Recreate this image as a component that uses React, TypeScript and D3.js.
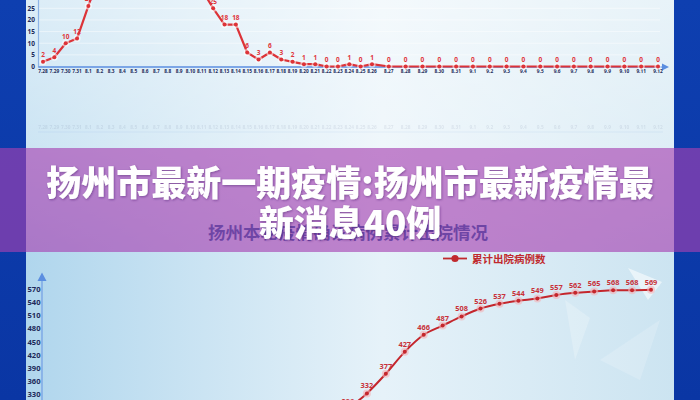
import React from 'react';
import * as d3 from 'd3';

const topDates = [
  '7.28', '7.29', '7.30', '7.31',
  '8.1', '8.2', '8.3', '8.4', '8.5', '8.6', '8.7', '8.8', '8.9', '8.10',
  '8.11', '8.12', '8.13', '8.14', '8.15', '8.16', '8.17', '8.18', '8.19', '8.20',
  '8.21', '8.22', '8.23', '8.24', '8.25', '8.26', '8.27', '8.28', '8.29', '8.30', '8.31',
  '9.1', '9.2', '9.3', '9.4', '9.5', '9.6', '9.7', '9.8', '9.9', '9.10', '9.11', '9.12',
];
const topValues = [
  2, 4, 10, 12,
  26, 40, 38, 47, 45, 41, 43, 36, 39, 35,
  33, 25, 18, 18, 6, 3, 6, 3, 2, 1,
  1, 0, 0, 1, 0, 1, 0, 0, 0, 0, 0,
  0, 0, 0, 0, 0, 0, 0, 0, 0, 0, 0, 0,
];
const topYTicks = [0, 5, 10, 15, 20, 25];

const botDates = [
  '8.26', '8.27', '8.28', '8.29', '8.30', '8.31', '9.1', '9.2', '9.3',
  '9.4', '9.5', '9.6', '9.7', '9.8', '9.9', '9.10', '9.11', '9.12',
];
const botValues = [258, 296, 332, 377, 427, 466, 487, 508, 526, 537, 544, 549, 557, 562, 565, 568, 568, 569];
const botYTicks = [330, 360, 390, 420, 450, 480, 510, 540, 570];

const bannerLines = ['扬州市最新一期疫情:扬州市最新疫情最', '新消息40例'];
const chartTitle = '扬州本轮疫情确诊病例累计出院情况';
const legendLabel = '累计出院病例数';

const NUM_FONT = "'Noto Sans', 'DejaVu Sans', sans-serif";
const CJK_FONT = "'Noto Sans CJK SC', 'Noto Sans', sans-serif";

export default function App() {
  const W = 700;
  const H = 400;

  const xTop = d3.scaleLinear().domain([0, 29, topDates.length - 1]).range([43, 372, 658]);
  const yTop = d3.scaleLinear().domain([0, 25]).range([66.5, 8.3]);
  const xBot = d3.scalePoint<string>().domain(botDates).range([329, 651]);
  const yBot = d3.scaleLinear().domain([330, 570]).range([394.3, 289.3]);

  const topPath = d3
    .line<number>()
    .x((_, i) => xTop(i))
    .y((d) => yTop(d))(topValues) as string;
  const botPath = d3
    .line<number>()
    .x((_, i) => xBot(botDates[i]) as number)
    .y((d) => yBot(d))
    .curve(d3.curveMonotoneX)(botValues) as string;

  return (
    <svg
      width={W}
      height={H}
      viewBox={`0 0 ${W} ${H}`}
      style={{ position: 'absolute', left: 0, top: 0, display: 'block' }}
    >
      <defs>
        <linearGradient id="side" x1="0" y1="0" x2="0" y2="1">
          <stop offset="0" stopColor="#0e3fb0" />
          <stop offset="1" stopColor="#0a36a4" />
        </linearGradient>
        <linearGradient id="panel" x1="0" y1="0" x2="1" y2="0">
          <stop offset="0" stopColor="#b0d6ed" />
          <stop offset="0.55" stopColor="#e6f2f9" />
          <stop offset="1" stopColor="#cce4f1" />
        </linearGradient>
        <linearGradient id="panelTop" x1="0" y1="0" x2="0" y2="1">
          <stop offset="0" stopColor="#ffffff" stopOpacity="0.55" />
          <stop offset="0.38" stopColor="#ffffff" stopOpacity="0.35" />
          <stop offset="0.62" stopColor="#ffffff" stopOpacity="0" />
        </linearGradient>
        <filter id="shadow" x="-5%" y="-20%" width="110%" height="140%">
          <feDropShadow dx="0.8" dy="1" stdDeviation="0.8" floodColor="#3a1560" floodOpacity="0.45" />
        </filter>
      </defs>

      {/* background */}
      <rect x={0} y={0} width={W} height={H} fill="url(#side)" />
      <rect x={26} y={0} width={648} height={H} fill="url(#panel)" />
      <rect x={26} y={0} width={648} height={H} fill="url(#panelTop)" />

      {/* decorative light shards */}
      <polygon points="628,268 662,282 648,300" fill="#ffffff" opacity={0.55} />
      <polygon points="565,300 590,318 575,360" fill="#ffffff" opacity={0.22} />
      <polygon points="600,360 660,320 640,380" fill="#ffffff" opacity={0.18} />

      {/* ===== top chart ===== */}
      {topYTicks.map((t) => (
        <line key={'g' + t} x1={39} x2={660} y1={yTop(t)} y2={yTop(t)} stroke="#ffffff" strokeOpacity={t === 0 ? 0 : 0.6} strokeWidth={0.8} />
      ))}
      <line x1={38.5} x2={38.5} y1={0} y2={67.5} stroke="#8db4e6" strokeWidth={1.2} />
      <line x1={38.5} x2={663} y1={67} y2={67} stroke="#5b8ee0" strokeWidth={1.4} />
      <polygon points="662,63.5 669,67 662,70.5" fill="#5b8ee0" />
      {topYTicks.map((t) => (
        <text key={'yt' + t} x={35} y={yTop(t) + 2.3} textAnchor="end" fontFamily={NUM_FONT} fontWeight={700} fontSize={6.5} fill="#1d2b5a">
          {t}
        </text>
      ))}
      {topDates.map((d, i) => (
        <text key={'xt' + d} x={xTop(i)} y={73} textAnchor="middle" fontFamily={NUM_FONT} fontWeight={700} fontSize={4.8} fill="#1d2b5a">
          {d}
        </text>
      ))}
      <path d={topPath} fill="none" stroke="#dc3338" strokeWidth={2.2} strokeLinejoin="round" />
      {topValues.map((v, i) => (
        <g key={'tp' + i}>
          <circle cx={xTop(i)} cy={yTop(v)} r={3.6} fill="#ffffff" opacity={0.55} />
          <circle cx={xTop(i)} cy={yTop(v)} r={2} fill="#dc3338" />
          {yTop(v) - 4.5 > 0 ? (
            <text x={xTop(i)} y={yTop(v) - 4.5} textAnchor="middle" fontFamily={NUM_FONT} fontWeight={700} fontSize={6.5} fill="#e0353b">
              {v}
            </text>
          ) : null}
        </g>
      ))}

      {/* faint reflection of top chart */}
      <g opacity={0.09}>
        <line x1={38} x2={663} y1={132} y2={132} stroke="#5b8ee0" strokeWidth={1.2} />
        {topDates.map((d, i) => (
          <text key={'rx' + d} x={xTop(i)} y={129} textAnchor="middle" fontFamily={NUM_FONT} fontWeight={700} fontSize={4.8} fill="#1d2b5a">
            {d}
          </text>
        ))}
      </g>

      {/* ===== bottom chart ===== */}
      <text x={208} y={239} fontFamily={CJK_FONT} fontWeight={700} fontSize={17.5} fill="#0f4e91">
        {chartTitle}
      </text>

      <line x1={443} x2={467} y1={258.5} y2={258.5} stroke="#c02a2e" strokeWidth={1.8} />
      <circle cx={455} cy={258.5} r={3.6} fill="#c02a2e" />
      <text x={472} y={262.5} fontFamily={CJK_FONT} fontWeight={700} fontSize={10.5} fill="#c02a2e">
        {legendLabel}
      </text>

      <line x1={42} x2={42} y1={280} y2={H} stroke="#7aa6e6" strokeWidth={1.4} />
      <polygon points="37.5,281 42,272.5 46.5,281" fill="#5b8ee0" />
      {botYTicks.map((t) => (
        <text key={'by' + t} x={40.5} y={yBot(t) + 2.7} textAnchor="end" fontFamily={NUM_FONT} fontWeight={700} fontSize={7.6} fill="#1d2b5a">
          {t}
        </text>
      ))}
      <path d={botPath} fill="none" stroke="#c4262c" strokeWidth={2} />
      {botValues.map((v, i) => {
        const cx = xBot(botDates[i]) as number;
        const cy = yBot(v);
        return (
          <g key={'bp' + i}>
            <circle cx={cx} cy={cy} r={4} fill="#f3b3b8" opacity={0.6} />
            <circle cx={cx} cy={cy} r={2} fill="#c4262c" />
            {cy - 5 - 6 < 400 ? (
              <text x={cx} y={cy - 5} textAnchor="middle" fontFamily={NUM_FONT} fontWeight={700} fontSize={7.4} fill="#c8323a">
                {v}
              </text>
            ) : null}
          </g>
        );
      })}

      {/* ===== purple banner ===== */}
      <rect x={0} y={148} width={W} height={104} fill="rgb(166,65,177)" opacity={0.63} />
      {bannerLines.map((line, i) => (
        <text
          key={'bn' + i}
          x={350}
          y={196 + i * 39.5}
          textAnchor="middle"
          fontFamily={CJK_FONT}
          fontWeight={900}
          fontSize={35}
          fill="#ffffff"
          filter="url(#shadow)"
        >
          {line}
        </text>
      ))}
    </svg>
  );
}
